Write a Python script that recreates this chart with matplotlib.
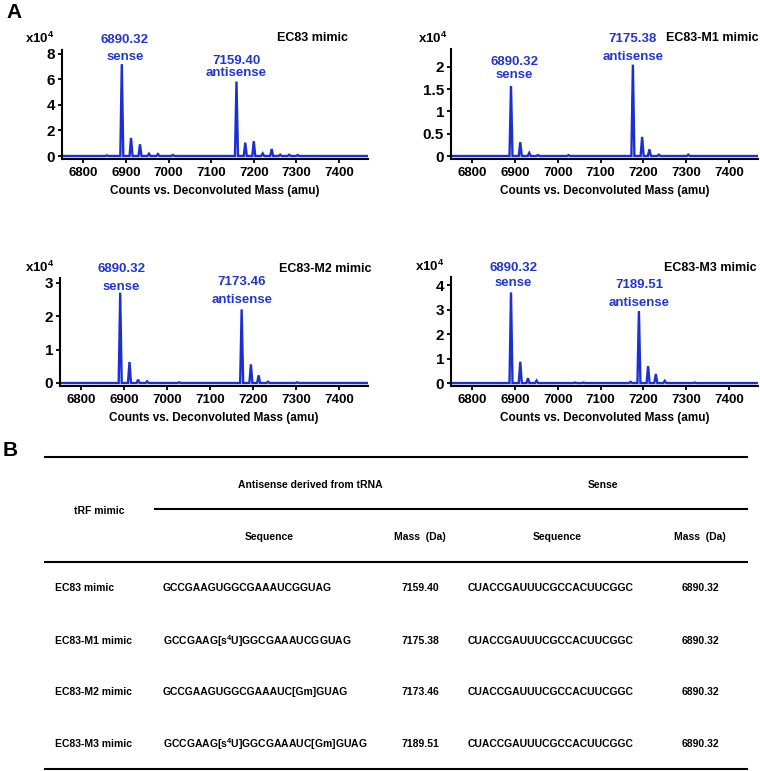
import numpy as np
import matplotlib
matplotlib.use("Agg")
import matplotlib.pyplot as plt

plt.rcParams['font.family'] = ['Liberation Sans', 'DejaVu Sans']
plt.rcParams['font.weight'] = 'bold'
plt.rcParams['mathtext.fontset'] = 'custom'
plt.rcParams['mathtext.rm'] = 'Liberation Sans:bold'
plt.rcParams['mathtext.it'] = 'Liberation Sans:bold'
plt.rcParams['mathtext.bf'] = 'Liberation Sans:bold'
plt.rcParams['mathtext.default'] = 'regular'

BLUE = '#1b2fd3'
TXT_BLUE = '#2236cf'

# ---- spectra: peak masses (amu) and heights (x10^4 counts) ----
ec83_mass = [6855, 6890.32, 6912, 6933, 6954, 6975, 7010, 7159.40, 7180, 7200, 7221, 7242, 7262, 7283, 7303]
ec83_height = [0.05, 7.2, 1.42, 0.92, 0.18, 0.15, 0.08, 5.84, 1.05, 1.16, 0.2, 0.55, 0.1, 0.1, 0.08]

m1_mass = [6890.32, 6912, 6933, 6953, 7025, 7175.38, 7197, 7214, 7236, 7305]
m1_height = [1.57, 0.31, 0.07, 0.02, 0.02, 2.05, 0.43, 0.15, 0.03, 0.03]

m2_mass = [6890.32, 6912, 6932, 6953, 7028, 7173.46, 7195, 7213, 7235, 7303]
m2_height = [2.71, 0.63, 0.1, 0.05, 0.02, 2.21, 0.56, 0.23, 0.04, 0.02]

m3_mass = [6890.32, 6912, 6930, 6950, 7040, 7060, 7170, 7189.51, 7211, 7229, 7250, 7320]
m3_height = [3.7, 0.87, 0.2, 0.1, 0.02, 0.02, 0.05, 2.94, 0.69, 0.37, 0.09, 0.02]

panel_titles = ['EC83 mimic', 'EC83-M1 mimic', 'EC83-M2 mimic', 'EC83-M3 mimic']
sense_labels = ['6890.32', '6890.32', '6890.32', '6890.32']
anti_labels = ['7159.40', '7175.38', '7173.46', '7189.51']
y_ticks = [[0, 2, 4, 6, 8], [0, 0.5, 1, 1.5, 2], [0, 1, 2, 3], [0, 1, 2, 3, 4]]
y_ticklabels = [['0', '2', '4', '6', '8'], ['0', '0.5', '1', '1.5', '2'],
                ['0', '1', '2', '3'], ['0', '1', '2', '3', '4']]
x_ticks = [6800, 6900, 7000, 7100, 7200, 7300, 7400]

# ---- table ----
mimic_names = ['EC83 mimic', 'EC83-M1 mimic', 'EC83-M2 mimic', 'EC83-M3 mimic']
anti_seqs = ['GCCGAAGUGGCGAAAUCGGUAG', 'GCCGAAG[s$^4$U]GGCGAAAUCGGUAG',
             'GCCGAAGUGGCGAAAUC[Gm]GUAG', 'GCCGAAG[s$^4$U]GGCGAAAUC[Gm]GUAG']
anti_masses = ['7159.40', '7175.38', '7173.46', '7189.51']
sense_seqs = ['CUACCGAUUUCGCCACUUCGGC'] * 4
sense_masses = ['6890.32'] * 4

spectra = [(ec83_mass, ec83_height), (m1_mass, m1_height),
           (m2_mass, m2_height), (m3_mass, m3_height)]

W, H = 760, 771
fig = plt.figure(figsize=(7.6, 7.71), dpi=100)

# axes boxes in pixels: left, right, top, bottom
boxes = [(62, 368, 50, 159), (451, 758, 49, 159), (60, 368, 278, 386), (451, 758, 277, 386)]
ylims = [(-0.235, 8.31), (-0.067, 2.4), (-0.09, 3.15), (-0.12, 4.33)]
# label positions (data y): sense number, sense word, anti number, anti word
label_y = [(9.1, 7.76, 7.45, 6.5), (2.11, 1.82, 2.63, 2.22),
           (3.42, 2.88, 3.03, 2.49), (4.69, 4.08, 4.0, 3.27)]
sense_dx = [7, 8, 3, 5]
title_xy = [(0.935, 1.11), (1.003, 1.10), (1.01, 1.083), (0.997, 1.083)]
x10_xy = [(-0.12, 1.11), (-0.107, 1.10), (-0.114, 1.10), (-0.117, 1.10)]

def spectrum_line(masses, heights, hw=3.5):
    xs, ys = [6740], [0]
    for m, h in sorted(zip(masses, heights)):
        xs += [m - hw, m, m + hw]
        ys += [0, h, 0]
    xs.append(7480)
    ys.append(0)
    return xs, ys

for i, (l, r, t, b) in enumerate(boxes):
    ax = fig.add_axes([l / W, 1 - b / H, (r - l) / W, (b - t) / H])
    xs, ys = spectrum_line(*spectra[i])
    ax.plot(xs, ys, color=BLUE, lw=1.7, solid_joinstyle='miter')
    ax.set_xlim(6750, 7468)
    ax.set_ylim(*ylims[i])
    ax.set_xticks(x_ticks)
    ax.set_xticklabels([str(v) for v in x_ticks], fontsize=9.5, fontweight='bold')
    ax.set_yticks(y_ticks[i])
    ax.set_yticklabels(y_ticklabels[i], fontsize=11, fontweight='bold')
    for s in ['top', 'right']:
        ax.spines[s].set_visible(False)
    for s in ['left', 'bottom']:
        ax.spines[s].set_linewidth(1.5)
    ax.tick_params(axis='both', width=1.3, length=3, pad=2)
    ax.tick_params(axis='x', pad=3)
    ax.set_xlabel('Counts vs. Deconvoluted Mass (amu)', fontsize=8.5, fontweight='bold', labelpad=4)

    sy1, sy2, ay1, ay2 = label_y[i]
    am = float(anti_labels[i])
    kw = dict(color=TXT_BLUE, fontsize=9.5, fontweight='bold', ha='center', va='center', clip_on=False)
    ax.text(6890.32 + sense_dx[i], sy1, sense_labels[i], **kw)
    ax.text(6890.32 + sense_dx[i], sy2, 'sense', **kw)
    ax.text(am, ay1, anti_labels[i], **kw)
    ax.text(am, ay2, 'antisense', **kw)

    ax.text(title_xy[i][0], title_xy[i][1], panel_titles[i], transform=ax.transAxes,
            ha='right', va='center', fontsize=9, fontweight='bold')
    ax.text(x10_xy[i][0], x10_xy[i][1], 'x10$^4$', transform=ax.transAxes,
            ha='left', va='center', fontsize=9.5, fontweight='bold')

# ---- panel B table, drawn on a full-figure overlay in pixel units ----
tab = fig.add_axes([0, 0, 1, 1])
tab.set_xlim(0, W)
tab.set_ylim(H, 0)
tab.axis('off')

fig.text(14 / W, 1 - 12 / H, 'A', fontsize=15, fontweight='bold', ha='center', va='center')
fig.text(10 / W, 1 - 451 / H, 'B', fontsize=15, fontweight='bold', ha='center', va='center')

tab.plot([45, 747], [457, 457], color='black', lw=1.5)
tab.plot([155, 747], [509, 509], color='black', lw=1.5)
tab.plot([45, 747], [562, 562], color='black', lw=1.5)
tab.plot([45, 747], [769, 769], color='black', lw=1.5)

fs = 7.5
tab.text(310, 485, 'Antisense derived from tRNA', fontsize=fs, ha='center', va='center')
tab.text(603, 485, 'Sense', fontsize=fs, ha='center', va='center')
tab.text(99, 511, 'tRF mimic', fontsize=fs, ha='center', va='center')
tab.text(269, 537, 'Sequence', fontsize=fs, ha='center', va='center')
tab.text(420, 537, 'Mass  (Da)', fontsize=fs, ha='center', va='center')
tab.text(557, 537, 'Sequence', fontsize=fs, ha='center', va='center')
tab.text(700, 537, 'Mass  (Da)', fontsize=fs, ha='center', va='center')

row_y = [588, 641, 692, 744]
for k in range(len(mimic_names)):
    y = row_y[k]
    tab.text(55, y, mimic_names[k], fontsize=fs, ha='left', va='center')
    tab.text(163, y, anti_seqs[k], fontsize=fs, ha='left', va='center')
    tab.text(420, y, anti_masses[k], fontsize=fs, ha='center', va='center')
    tab.text(468, y, sense_seqs[k], fontsize=fs, ha='left', va='center')
    tab.text(700, y, sense_masses[k], fontsize=fs, ha='center', va='center')

fig.savefig('out.png', dpi=100)
